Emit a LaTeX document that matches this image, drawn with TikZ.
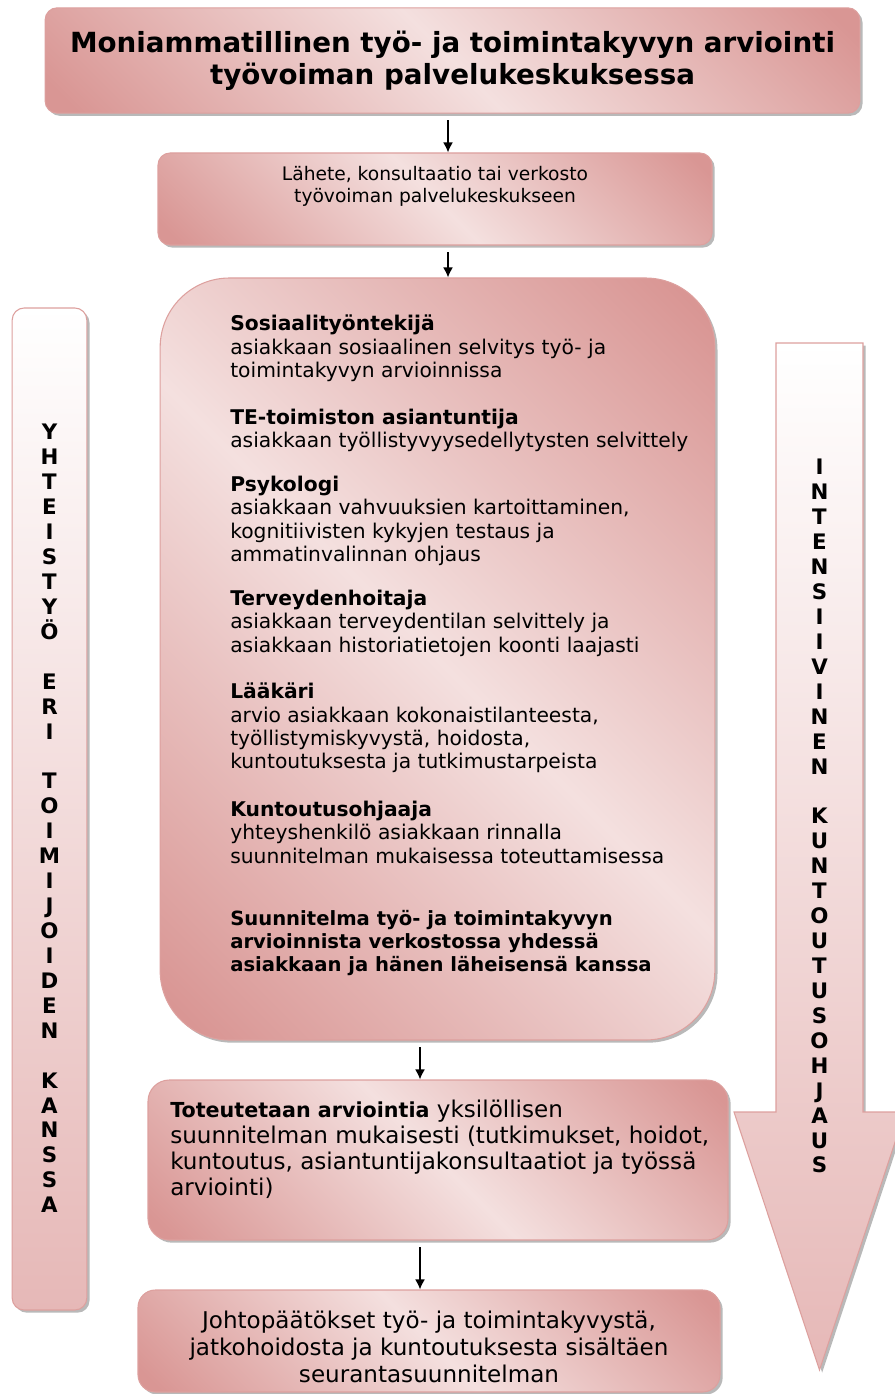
\documentclass[tikz,border=0pt]{standalone}
\usepackage{fontspec}
\setmainfont{DejaVu Sans}
\usetikzlibrary{shapes,arrows.meta,positioning,calc,shadows}

\definecolor{rosedark}{RGB}{217,150,148}
\definecolor{roselight}{RGB}{244,224,223}
\definecolor{rosebar}{RGB}{230,184,183}
\definecolor{roseline}{RGB}{221,160,158}

\pgfdeclarehorizontalshading{rosediag}{100bp}{color(0bp)=(rosedark); color(17bp)=(rosedark); color(50bp)=(roselight); color(83bp)=(rosedark); color(100bp)=(rosedark)}

\tikzstyle{block} = [draw=roseline, line width=0.8pt, rectangle, shading=rosediag, shading angle=45, rounded corners=9pt, drop shadow={shadow xshift=2pt, shadow yshift=-2pt, fill=black!55, opacity=.5}]
\tikzstyle{bar} = [draw=roseline, line width=0.8pt, top color=white, bottom color=rosebar, drop shadow={shadow xshift=2pt, shadow yshift=-2pt, fill=black!55, opacity=.5}]
\tikzstyle{txt} = [inner sep=0pt, align=left, anchor=north west, font=\fontsize{15.2}{17.4}\selectfont]
\tikzstyle{letters} = [inner sep=0pt, align=center, anchor=north, font=\bfseries\fontsize{16}{18.7}\selectfont]
\tikzstyle{flow} = [->, line width=1.3pt, shorten <=5pt]

\begin{document}
\begin{tikzpicture}[x=0.75pt, y=-0.75pt, >={Latex[width=7.5pt,length=7.5pt]}]
  \useasboundingbox (0,0) rectangle (894,1394);

  % side bars
  \node [bar, rounded corners=9pt, minimum width=56pt, minimum height=751.5pt] (coop) at (49.5,809) {};
  \path [bar] (776,343) -- (863,343) -- (863,1112) -- (905,1112) -- (819.5,1370) -- (734,1112) -- (776,1112) -- cycle;
  \node [letters] (cooptext) at (49.5,424) {Y\\H\\T\\E\\I\\S\\T\\Y\\Ö\\[18.7pt]E\\R\\I\\[18.7pt]T\\O\\I\\M\\I\\J\\O\\I\\D\\E\\N\\[18.7pt]K\\A\\N\\S\\S\\A};
  \node [letters] (intenstext) at (819.5,459) {I\\N\\T\\E\\N\\S\\I\\I\\V\\I\\N\\E\\N\\[18.7pt]K\\U\\N\\T\\O\\U\\T\\U\\S\\O\\H\\J\\A\\U\\S};

  % main column
  \node [block, minimum width=611pt, minimum height=79pt, align=center, font=\bfseries\fontsize{20.8}{24}\selectfont] (title) at (452.5,60.5) {Moniammatillinen työ- ja toimintakyvyn arviointi\\työvoiman palvelukeskuksessa};

  \node [block, minimum width=415.5pt, minimum height=69pt] (referral) at (435,199) {};
  \node [align=center, inner sep=0pt, font=\fontsize{14}{16.5}\selectfont] (reftext) at (435,186) {Lähete, konsultaatio tai verkosto\\työvoiman palvelukeskukseen};

  \node [block, rounded corners=52pt, minimum width=416pt, minimum height=571.5pt] (team) at (437.5,659) {};
  \node [txt] (social) at (230,315) {\textbf{Sosiaalityöntekijä}\\asiakkaan sosiaalinen selvitys työ- ja\\toimintakyvyn arvioinnissa};
  \node [txt] (teoffice) at (230,409) {\textbf{TE-toimiston asiantuntija}\\asiakkaan työllistyvyysedellytysten selvittely};
  \node [txt] (psych) at (230,476) {\textbf{Psykologi}\\asiakkaan vahvuuksien kartoittaminen,\\kognitiivisten kykyjen testaus ja\\ammatinvalinnan ohjaus};
  \node [txt] (nurse) at (230,590) {\textbf{Terveydenhoitaja}\\asiakkaan terveydentilan selvittely ja\\asiakkaan historiatietojen koonti laajasti};
  \node [txt] (doctor) at (230,683) {\textbf{Lääkäri}\\arvio asiakkaan kokonaistilanteesta,\\työllistymiskyvystä, hoidosta,\\kuntoutuksesta ja tutkimustarpeista};
  \node [txt] (rehab) at (230,801) {\textbf{Kuntoutusohjaaja}\\yhteyshenkilö asiakkaan rinnalla\\suunnitelman mukaisessa toteuttamisessa};
  \node [txt, font=\bfseries\fontsize{14.7}{17.4}\selectfont] (plan) at (230,910) {Suunnitelma työ- ja toimintakyvyn\\arvioinnista verkostossa yhdessä\\asiakkaan ja hänen läheisensä kanssa};

  \node [block, rounded corners=16pt, minimum width=435pt, minimum height=120pt] (impl) at (438,1160) {};
  \node [txt, font=\fontsize{17.3}{19.3}\selectfont] (impltext) at (170,1100) {{\bfseries\fontsize{15.5}{19.3}\selectfont Toteutetaan arviointia} yksilöllisen\\suunnitelman mukaisesti (tutkimukset, hoidot,\\kuntoutus, asiantuntijakonsultaatiot ja työssä\\arviointi)};

  \node [block, rounded corners=13pt, minimum width=436.5pt, minimum height=76.5pt] (concl) at (429,1341) {};
  \node [align=center, inner sep=0pt, font=\fontsize{17.3}{20}\selectfont] (concltext) at (429,1347) {Johtopäätökset työ- ja toimintakyvystä,\\jatkohoidosta ja kuntoutuksesta sisältäen\\seurantasuunnitelman};

  % arrows
  \coordinate (upper) at (448,0);
  \coordinate (lower) at (420,0);
  \draw [flow] (upper |- title.south) -- (upper |- referral.north);
  \draw [flow] (upper |- referral.south) -- (upper |- team.north);
  \draw [flow] (lower |- team.south) -- (lower |- impl.north);
  \draw [flow] (lower |- impl.south) -- (lower |- concl.north);
\end{tikzpicture}
\end{document}
